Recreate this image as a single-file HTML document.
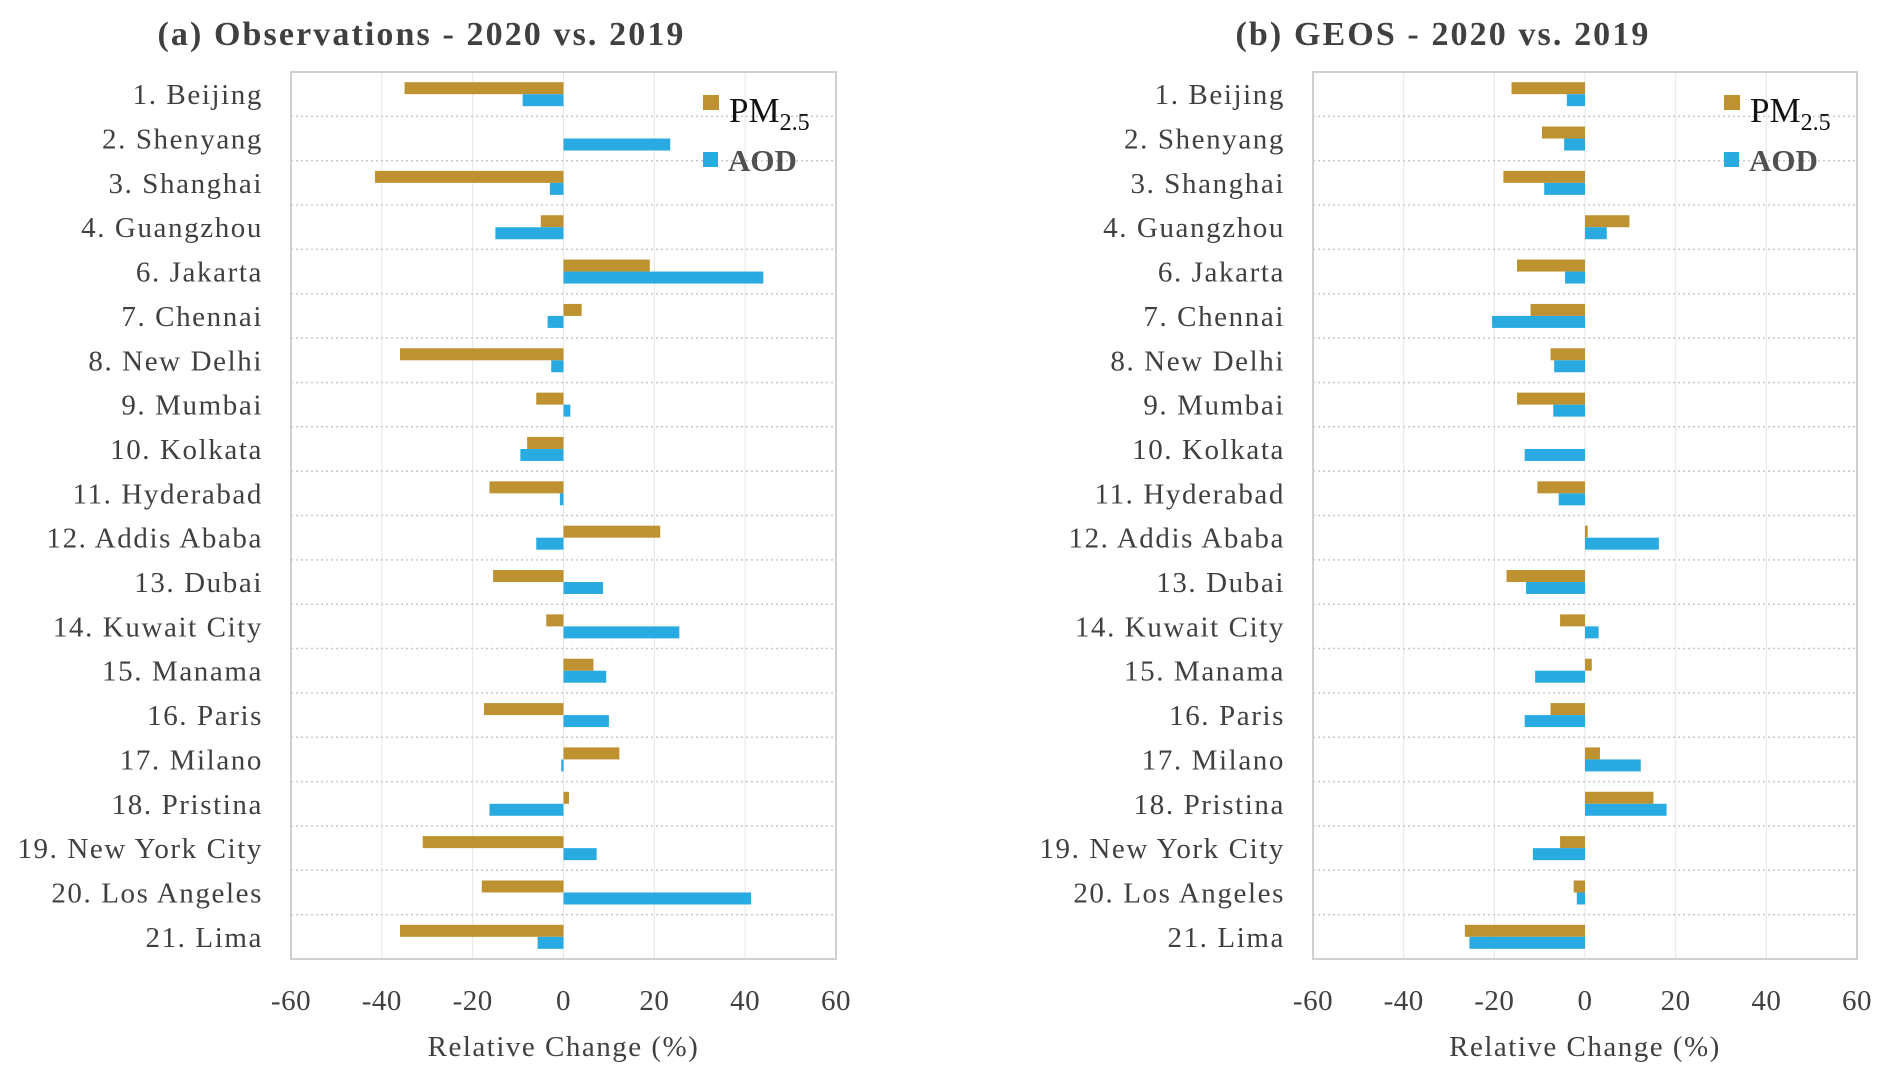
<!DOCTYPE html>
<html><head><meta charset="utf-8"><style>
html,body{margin:0;padding:0;background:#fff;}
svg{display:block;font-family:"Liberation Serif",serif;}
</style></head><body>
<svg id="chart" width="1892" height="1082" viewBox="0 0 1892 1082"></svg>
<script>
const cities = ["1. Beijing","2. Shenyang","3. Shanghai","4. Guangzhou","6. Jakarta","7. Chennai","8. New Delhi","9. Mumbai","10. Kolkata","11. Hyderabad","12. Addis Ababa","13. Dubai","14. Kuwait City","15. Manama","16. Paris","17. Milano","18. Pristina","19. New York City","20. Los Angeles","21. Lima"];
const obsPM = [-35,0,-41.5,-5,19,4,-36,-6,-8,-16.3,21.3,-15.5,-3.8,6.6,-17.5,12.3,1.2,-31,-18,-36];
const obsAOD = [-9,23.5,-3,-15,44,-3.5,-2.7,1.5,-9.5,-0.8,-6,8.7,25.5,9.4,10,-0.5,-16.3,7.3,41.3,-5.7];
const geosPM = [-16.2,-9.5,-18,9.8,-15,-12,-7.6,-15,0,-10.5,0.6,-17.3,-5.5,1.5,-7.6,3.3,15.1,-5.5,-2.5,-26.5];
const geosAOD = [-4,-4.6,-9,4.8,-4.4,-20.5,-6.8,-7,-13.3,-5.8,16.3,-13,3,-11,-13.3,12.3,18,-11.5,-1.8,-25.5];
const xTicks = [-60,-40,-20,0,20,40,60];

const NS="http://www.w3.org/2000/svg";
const svg=document.getElementById('chart');
function mk(tag,attrs,parent,text){const e=document.createElementNS(NS,tag);for(const k in attrs)e.setAttribute(k,attrs[k]);if(text!==undefined)e.textContent=text;(parent||svg).appendChild(e);return e;}

function panel(id,x0,x1,title,pm,aod){
  const top=72,bot=959;
  const g=mk('g',{});
  
  
  const xs=v=>x0+(v+60)/120*(x1-x0);
  const n=cities.length, rh=(bot-top)/n;
  xTicks.forEach(t=>{
    const l=mk('line',{x1:xs(t),x2:xs(t),y1:top,y2:bot,stroke:'#e6e6e6','stroke-width':1},g);
    
    
    const tx=mk('text',{x:xs(t),y:1010,'text-anchor':'middle','font-size':29,'letter-spacing':0.5,fill:'#404040'},g,String(t));
    
    
  });
  for(let i=1;i<n;i++){
    const l=mk('line',{x1:x0,x2:x1,y1:top+i*rh,y2:top+i*rh,stroke:'#c8c8c8','stroke-width':1.5,'stroke-dasharray':'2,3'},g);
    
    
  }
  const fr=mk('rect',{x:x0,y:top,width:x1-x0,height:bot-top,fill:'none',stroke:'#d0d0d0','stroke-width':2},g);
  
  
  const bh=12;
  cities.forEach((c,i)=>{
    const cy=top+(i+0.5)*rh;
    const lb=mk('text',{x:x0-28,y:cy+10,'text-anchor':'end','font-size':29,'letter-spacing':1.6,fill:'#404040'},g,c);
    
    
    const z=xs(0);
    const p=xs(pm[i]);
    const r1=mk('rect',{x:Math.min(z,p),y:cy-bh,width:Math.abs(p-z),height:bh,fill:'#BF9231'},g);
    
    
    const a=xs(aod[i]);
    const r2=mk('rect',{x:Math.min(z,a),y:cy,width:Math.abs(a-z),height:bh,fill:'#29ABE2'},g);
    
    
  });
  const ti=mk('text',{x:(x0+x1)/2-142,y:45,'text-anchor':'middle','font-size':34,'letter-spacing':2.1,'font-weight':'bold',fill:'#404040'},g,title);
  
  
  const xt=mk('text',{x:xs(0),y:1056,'text-anchor':'middle','font-size':29,'letter-spacing':1.5,fill:'#404040'},g,'Relative Change (%)');
  
  
  const lx=x1-133;
  const s1=mk('rect',{x:lx,y:95,width:16,height:15,fill:'#BF9231'},g);
  
  
  const t1=mk('text',{x:lx+26,y:122,'font-size':35,fill:'#111'},g);
  
  
  t1.appendChild(document.createTextNode('PM'));
  mk('tspan',{'font-size':24,dy:8},t1,'2.5');
  const s2=mk('rect',{x:lx,y:152,width:15,height:15,fill:'#29ABE2'},g);
  
  
  const t2=mk('text',{x:lx+25,y:171,'font-size':31,'font-weight':'bold',fill:'#505050'},g,'AOD');
  
  
}
panel('observations',291,836,'(a) Observations - 2020 vs. 2019',obsPM,obsAOD);
panel('geos',1313,1857,'(b) GEOS - 2020 vs. 2019',geosPM,geosAOD);
</script>
</body></html>
